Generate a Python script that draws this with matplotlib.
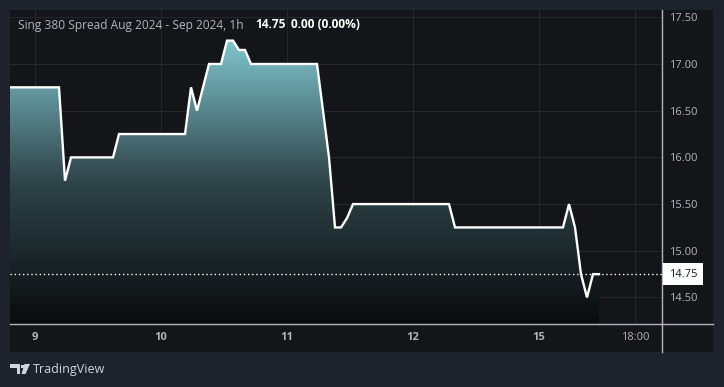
import matplotlib.pyplot as plt
import numpy as np
from matplotlib.colors import LinearSegmentedColormap
from matplotlib.patches import Rectangle, Polygon
from matplotlib.lines import Line2D

plt.rcParams['font.family'] = ['Open Sans', 'DejaVu Sans']

# hourly bars, index 0 = first bar of the 9th
bar = [-5, 4, 5, 6, 13, 14, 25, 26, 27, 28, 29, 31, 32, 33, 34, 35, 36, 47, 48, 49,
       50, 51, 52, 53, 69, 70, 88, 89, 90, 91, 92, 93, 94]
price = [16.75, 16.75, 15.75, 16.0, 16.0, 16.25, 16.25, 16.75, 16.5, 16.75, 17.0, 17.0,
         17.25, 17.25, 17.15, 17.15, 17.0, 17.0, 16.5, 16.0, 15.25, 15.25, 15.35, 15.5,
         15.5, 15.25, 15.25, 15.5, 15.25, 14.75, 14.5, 14.75, 14.75]
last_price = 14.75

day_pos = [0, 21, 42, 63, 84, 100]
day_labels = ["9", "10", "11", "12", "15", "18:00"]
yticks = [14.5, 15.0, 15.5, 16.0, 16.5, 17.0, 17.5]

W, H = 724, 387
outer_bg = "#1e222d"
chart_bg = "#141519"
axis_col = "#b2b5be"
grid_col = "#25272d"

fig = plt.figure(figsize=(W / 100, H / 100), dpi=100, facecolor=outer_bg)

# panel background (chart + price axis + time axis)
fig.patches.append(Rectangle((10 / W, 1 - 352 / H), 703 / W, 342 / H,
                             transform=fig.transFigure, facecolor=chart_bg,
                             edgecolor="none", zorder=-10))

ax = fig.add_axes([10 / W, 1 - 324 / H, 652 / W, 314 / H])
ax.set_facecolor(chart_bg)
ax.set_xlim(-4.17, 104.5)
ax.set_ylim(14.216, 17.578)

# grid
for y in yticks:
    ax.axhline(y, color=grid_col, lw=0.8, zorder=1)
for x in day_pos:
    ax.axvline(x, color=grid_col, lw=0.8, zorder=1)

# gradient area
y0, y1 = ax.get_ylim()
cmap = LinearSegmentedColormap.from_list("area", ["#0a0b0d", "#2e4449", "#80c5cd"])
grad = np.linspace(0, 1, 256).reshape(-1, 1)
top = max(price)
img = ax.imshow(grad, extent=[bar[0], bar[-1], y0, top], origin="lower",
                aspect="auto", cmap=cmap, zorder=2)
poly = Polygon(list(zip(bar, price)) + [(bar[-1], y0), (bar[0], y0)], closed=True,
               facecolor="none", edgecolor="none")
ax.add_patch(poly)
img.set_clip_path(poly)
ax.set_xlim(-4.17, 104.5)
ax.set_ylim(y0, y1)

ax.plot(bar, price, color="white", lw=1.7, zorder=4, solid_joinstyle="miter")

# last price dotted line
ax.axhline(last_price, color="white", lw=1, ls=(0, (1, 2)), zorder=3)

# axes styling
for s in ["top", "left"]:
    ax.spines[s].set_visible(False)
ax.spines["right"].set_color(axis_col)
ax.spines["bottom"].set_color(axis_col)
ax.spines["right"].set_linewidth(1)
ax.spines["bottom"].set_linewidth(1)

ax.yaxis.tick_right()
ax.set_yticks(yticks)
ax.set_yticklabels([f"{v:.2f}" for v in yticks])
ax.tick_params(axis="y", length=0, pad=5, labelsize=8, labelcolor=axis_col)
ax.set_xticks(day_pos)
ax.set_xticklabels(day_labels)
ax.tick_params(axis="x", length=0, pad=6, labelsize=8, labelcolor=axis_col)
for t in ax.get_xticklabels():
    if ":" not in t.get_text():
        t.set_fontweight("bold")

# extend axis lines across the price/time axis areas
fig.add_artist(Line2D([662 / W, 713 / W], [1 - 324 / H] * 2, color=axis_col, lw=1))
fig.add_artist(Line2D([662 / W] * 2, [1 - 352 / H, 1 - 324 / H], color=axis_col, lw=1))

# last price label
ax.annotate(f"{last_price:.2f}", xy=(1, last_price), xycoords=("axes fraction", "data"),
            xytext=(5, 0), textcoords="offset points", va="center", ha="left",
            fontsize=8, color="#131722", zorder=6, annotation_clip=False,
            bbox=dict(boxstyle="square,pad=0.5", fc="white", ec="none"))

# title
fig.text(18 / W, 1 - 25 / H, "Sing 380 Spread Aug 2024 - Sep 2024, 1h", color=axis_col,
         fontsize=8.6, va="center", ha="left")
fig.text(255 / W, 1 - 25 / H, "14.75", color="white", fontsize=8.6, fontweight="bold",
         va="center", ha="left")
fig.text(291 / W, 1 - 25 / H, "0.00 (0.00%)", color="white", fontsize=8.6,
         fontweight="bold", va="center", ha="left")

# TradingView logo
logo = "#d1d4dc"
fig.patches.append(Polygon([(10 / W, 1 - 364 / H), (20 / W, 1 - 364 / H), (20 / W, 1 - 374 / H),
                            (16.5 / W, 1 - 374 / H), (16.5 / W, 1 - 367.5 / H), (10 / W, 1 - 367.5 / H)],
                           closed=True, transform=fig.transFigure, fc=logo, ec="none"))
fig.patches.append(Rectangle((20.5 / W, 1 - 368 / H), 3 / W, 3.5 / H,
                             transform=fig.transFigure, fc=logo, ec="none"))
fig.patches.append(Polygon([(24.5 / W, 1 - 364 / H), (30 / W, 1 - 364 / H), (25.5 / W, 1 - 374 / H),
                            (21.5 / W, 1 - 374 / H)],
                           closed=True, transform=fig.transFigure, fc=logo, ec="none"))
fig.text(33 / W, 1 - 369.5 / H, "TradingView", color=logo, fontsize=9, va="center", ha="left")

fig.savefig("out.png", dpi=100, facecolor=outer_bg)
